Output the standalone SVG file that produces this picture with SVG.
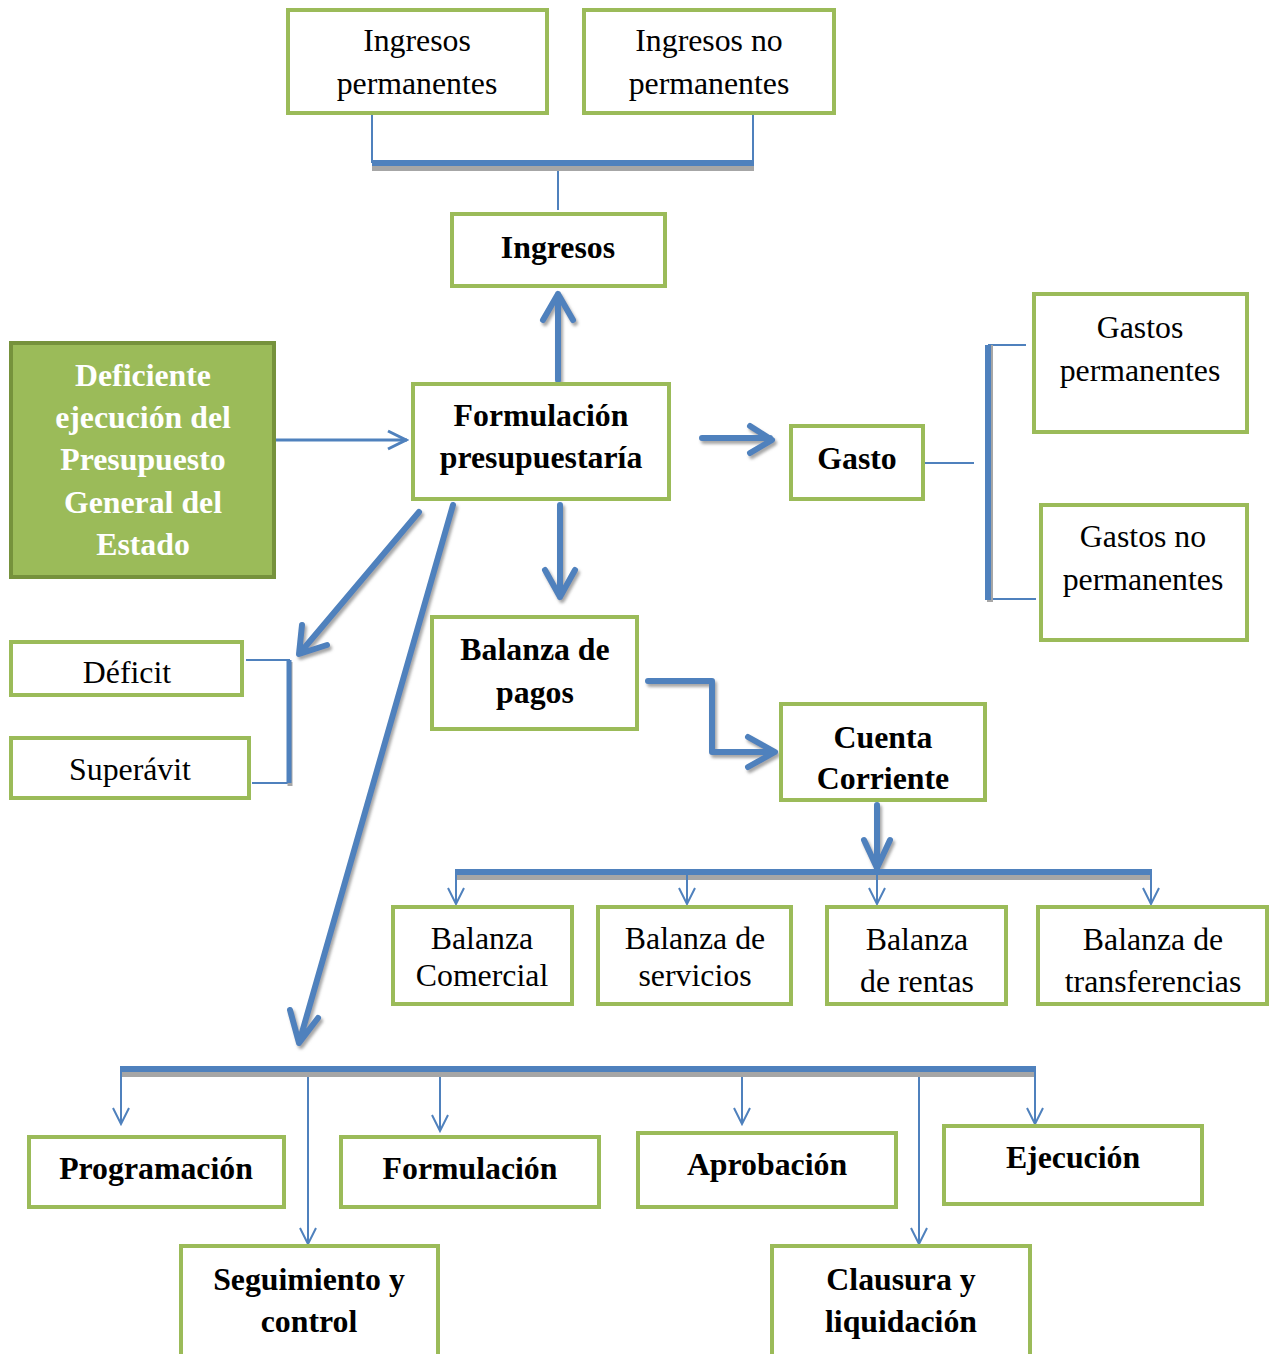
<svg xmlns="http://www.w3.org/2000/svg" width="1278" height="1354" viewBox="0 0 1278 1354">
<defs>
<style>
.box{fill:#fff;stroke:#9BBB59;stroke-width:4}
.dark{fill:#9BBB59;stroke:#76923C;stroke-width:4}
text{font-family:"Liberation Serif","Times New Roman",serif;font-size:31.8px;text-anchor:middle;fill:#000}
.b{font-weight:bold}
.w{fill:#fff;font-weight:bold}
.thin{stroke:#4F81BD;stroke-width:2;fill:none}
.mid{stroke:#4F81BD;stroke-width:3;fill:none}
.thick{stroke:#4F81BD;stroke-width:6;fill:none;stroke-linecap:round;stroke-linejoin:round}
.bar{stroke:#4F81BD;stroke-width:6;fill:none}
.sh{stroke:#A6A6A6;stroke-width:6;fill:none}
</style>
<filter id="ds" x="-20%" y="-20%" width="140%" height="140%">
<feDropShadow dx="2" dy="3" stdDeviation="1.5" flood-color="#808080" flood-opacity="0.7"/>
</filter>
<marker id="oa" viewBox="0 0 20 20" refX="18" refY="10" markerWidth="20" markerHeight="20" markerUnits="userSpaceOnUse" orient="auto">
<path d="M2,2 L18,10 L2,18" fill="none" stroke="#4F81BD" stroke-width="2"/>
</marker>
<marker id="ma" viewBox="0 0 24 24" refX="22" refY="12" markerWidth="24" markerHeight="24" markerUnits="userSpaceOnUse" orient="auto">
<path d="M3,3 L21,12 L3,21" fill="none" stroke="#4F81BD" stroke-width="3"/>
</marker>
</defs>

<g id="connectors">
<path class="thin" d="M372,114 V163 M753,114 V163 M558,170 V210"/>
<line class="sh" x1="372" y1="168" x2="754" y2="168"/>
<line class="bar" x1="372" y1="163" x2="754" y2="163"/>
<g filter="url(#ds)">
<path class="thick" d="M558,380 V294 M543,320 L558,294 L573,320"/>
<path class="thick" d="M702,438 H770 M750,426 L772,440 L750,453"/>
<path class="thick" d="M419,512 L300,653 M302,625 L299,654 L327,645"/>
<path class="thick" d="M453,505 L299,1043 M290,1010 L299,1043 L318,1018"/>
<path class="thick" d="M560,505 V597 M545,570 L560,597 L575,570"/>
<path class="thick" d="M648,681 H712 V752 H772 M748,737 L775,752 L748,767" stroke-linejoin="miter" stroke-linecap="butt"/>
<path class="thick" d="M877,805 V866 M864,840 L877,868 L890,840"/>
</g>
<path class="thin" d="M924,463 H974 M988,345 H1026 M988,599 H1036"/>
<line x1="990" y1="345" x2="990" y2="602" stroke="#A6A6A6" stroke-width="6"/>
<line class="bar" x1="988" y1="345" x2="988" y2="600"/>
<path class="thin" d="M246,660 H290 M252,783 H292"/>
<line x1="290" y1="662" x2="290" y2="786" stroke="#A6A6A6" stroke-width="5"/>
<line x1="289" y1="660" x2="289" y2="783" stroke="#4F81BD" stroke-width="5"/>
<line class="mid" x1="276" y1="440" x2="407" y2="440" marker-end="url(#ma)"/>
<line class="sh" x1="455" y1="877" x2="1152" y2="877"/>
<line class="bar" x1="455" y1="872" x2="1152" y2="872"/>
<line class="thin" x1="456" y1="875" x2="456" y2="904" marker-end="url(#oa)"/>
<line class="thin" x1="687" y1="875" x2="687" y2="904" marker-end="url(#oa)"/>
<line class="thin" x1="877" y1="875" x2="877" y2="904" marker-end="url(#oa)"/>
<line class="thin" x1="1151" y1="875" x2="1151" y2="904" marker-end="url(#oa)"/>
<line class="sh" x1="120" y1="1074" x2="1036" y2="1074"/>
<line class="bar" x1="120" y1="1069" x2="1036" y2="1069"/>
<line class="thin" x1="121" y1="1072" x2="121" y2="1124" marker-end="url(#oa)"/>
<line class="thin" x1="308" y1="1077" x2="308" y2="1244" marker-end="url(#oa)"/>
<line class="thin" x1="440" y1="1077" x2="440" y2="1131" marker-end="url(#oa)"/>
<line class="thin" x1="742" y1="1077" x2="742" y2="1124" marker-end="url(#oa)"/>
<line class="thin" x1="919" y1="1077" x2="919" y2="1244" marker-end="url(#oa)"/>
<line class="thin" x1="1035" y1="1072" x2="1035" y2="1124" marker-end="url(#oa)"/>
</g>

<g id="ingresos-permanentes"><rect class="box" x="288" y="10" width="259" height="103"/><text x="417" y="51">Ingresos</text><text x="417" y="94">permanentes</text></g>
<g id="ingresos-no-permanentes"><rect class="box" x="584" y="10" width="250" height="103"/><text x="709" y="51">Ingresos no</text><text x="709" y="94">permanentes</text></g>
<g id="ingresos"><rect class="box" x="452" y="214" width="213" height="72"/><text class="b" x="558" y="258">Ingresos</text></g>
<g id="deficiente"><rect class="dark" x="11" y="343" width="263" height="234"/>
<text class="w" x="143" y="386">Deficiente</text><text class="w" x="143" y="428">ejecución del</text><text class="w" x="143" y="470">Presupuesto</text><text class="w" x="143" y="513">General del</text><text class="w" x="143" y="555">Estado</text></g>
<g id="formulacion-presupuestaria"><rect class="box" x="413" y="384" width="256" height="115"/><text class="b" x="541" y="426">Formulación</text><text class="b" x="541" y="468">presupuestaría</text></g>
<g id="gasto"><rect class="box" x="791" y="426" width="132" height="73"/><text class="b" x="857" y="469">Gasto</text></g>
<g id="gastos-permanentes"><rect class="box" x="1034" y="294" width="213" height="138"/><text x="1140" y="338">Gastos</text><text x="1140" y="381">permanentes</text></g>
<g id="gastos-no-permanentes"><rect class="box" x="1041" y="505" width="206" height="135"/><text x="1143" y="547">Gastos no</text><text x="1143" y="590">permanentes</text></g>
<g id="deficit"><rect class="box" x="11" y="642" width="231" height="53"/><text x="127" y="683">Déficit</text></g>
<g id="superavit"><rect class="box" x="11" y="738" width="238" height="60"/><text x="130" y="780">Superávit</text></g>
<g id="balanza-pagos"><rect class="box" x="432" y="617" width="205" height="112"/><text class="b" x="535" y="660">Balanza de</text><text class="b" x="535" y="703">pagos</text></g>
<g id="cuenta-corriente"><rect class="box" x="781" y="704" width="204" height="96"/><text class="b" x="883" y="748">Cuenta</text><text class="b" x="883" y="789">Corriente</text></g>
<g id="balanza-comercial"><rect class="box" x="393" y="907" width="179" height="97"/><text x="482" y="949">Balanza</text><text x="482" y="986">Comercial</text></g>
<g id="balanza-servicios"><rect class="box" x="598" y="907" width="193" height="97"/><text x="695" y="949">Balanza de</text><text x="695" y="986">servicios</text></g>
<g id="balanza-rentas"><rect class="box" x="827" y="907" width="179" height="97"/><text x="917" y="950">Balanza</text><text x="917" y="992">de rentas</text></g>
<g id="balanza-transferencias"><rect class="box" x="1038" y="907" width="229" height="97"/><text x="1153" y="950">Balanza de</text><text x="1153" y="992">transferencias</text></g>
<g id="programacion"><rect class="box" x="29" y="1137" width="255" height="70"/><text class="b" x="156" y="1179">Programación</text></g>
<g id="formulacion"><rect class="box" x="341" y="1137" width="258" height="70"/><text class="b" x="470" y="1179">Formulación</text></g>
<g id="aprobacion"><rect class="box" x="638" y="1133" width="258" height="74"/><text class="b" x="767" y="1175">Aprobación</text></g>
<g id="ejecucion"><rect class="box" x="944" y="1126" width="258" height="78"/><text class="b" x="1073" y="1168">Ejecución</text></g>
<g id="seguimiento"><rect class="box" x="181" y="1246" width="257" height="112"/><text class="b" x="309" y="1290">Seguimiento y</text><text class="b" x="309" y="1332">control</text></g>
<g id="clausura"><rect class="box" x="772" y="1246" width="258" height="112"/><text class="b" x="901" y="1290">Clausura y</text><text class="b" x="901" y="1332">liquidación</text></g>
</svg>
